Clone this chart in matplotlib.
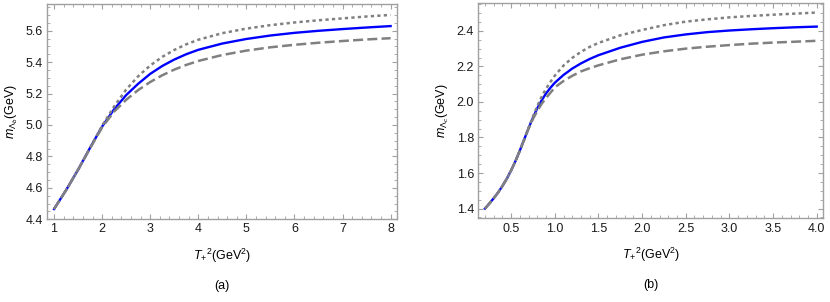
import matplotlib
matplotlib.use('Agg')
from matplotlib import pyplot as plt
from matplotlib.ticker import MultipleLocator

plt.rcParams['font.family'] = ['Liberation Sans', 'DejaVu Sans']
plt.rcParams['mathtext.fontset'] = 'custom'
plt.rcParams['mathtext.rm'] = 'Liberation Sans'
plt.rcParams['mathtext.it'] = 'Liberation Sans:italic'

# Panel (a): Lambda_b mass vs T_+^2
x_b = [1.0, 1.25, 1.5, 1.75, 2.0, 2.25, 2.5, 2.75, 3.0, 3.25, 3.5, 3.75, 4.0, 4.5, 5.0, 5.5, 6.0, 6.5, 7.0, 7.5, 8.0]
solid_b = [4.465, 4.585, 4.715, 4.855, 4.99, 5.10, 5.19, 5.262, 5.325, 5.375, 5.416, 5.45, 5.478, 5.518, 5.547, 5.569, 5.586, 5.599, 5.61, 5.62, 5.629]
dotted_b = [4.465, 4.585, 4.715, 4.855, 4.995, 5.118, 5.225, 5.31, 5.378, 5.433, 5.477, 5.513, 5.542, 5.584, 5.613, 5.635, 5.652, 5.666, 5.678, 5.69, 5.70]
dashed_b = [4.465, 4.585, 4.715, 4.852, 4.985, 5.085, 5.16, 5.222, 5.273, 5.316, 5.352, 5.382, 5.407, 5.445, 5.473, 5.494, 5.51, 5.523, 5.534, 5.544, 5.552]

# Panel (b): Lambda_c mass vs T_+^2
x_c = [0.2, 0.25, 0.3, 0.35, 0.4, 0.45, 0.5, 0.55, 0.6, 0.65, 0.7, 0.75, 0.8, 0.85, 0.9, 0.95, 1.0,
       1.1, 1.2, 1.3, 1.4, 1.5, 1.75, 2.0, 2.25, 2.5, 2.75, 3.0, 3.25, 3.5, 3.75, 4.0]
solid_c = [1.400, 1.428, 1.458, 1.490, 1.527, 1.568, 1.615, 1.668, 1.727, 1.790, 1.853, 1.912, 1.965, 2.010, 2.048, 2.080, 2.108,
           2.152, 2.188, 2.217, 2.242, 2.263, 2.305, 2.338, 2.363, 2.380, 2.393, 2.402, 2.409, 2.415, 2.420, 2.424]
dotted_c = [1.400, 1.428, 1.458, 1.490, 1.527, 1.568, 1.615, 1.668, 1.727, 1.790, 1.855, 1.918, 1.978, 2.030, 2.075, 2.113, 2.148,
            2.205, 2.248, 2.282, 2.310, 2.332, 2.375, 2.405, 2.432, 2.452, 2.465, 2.476, 2.484, 2.491, 2.497, 2.503]
dashed_c = [1.400, 1.428, 1.458, 1.490, 1.527, 1.568, 1.615, 1.668, 1.727, 1.790, 1.851, 1.905, 1.950, 1.990, 2.022, 2.052, 2.082,
            2.118, 2.147, 2.172, 2.190, 2.206, 2.240, 2.266, 2.285, 2.300, 2.311, 2.320, 2.328, 2.334, 2.339, 2.344]

frame_gray = '#a0a0a0'
line_gray = '#808080'

fig = plt.figure(figsize=(8.3, 3.02), dpi=100)
ax1 = fig.add_axes([0.057, 0.274, 0.4217, 0.713])
ax2 = fig.add_axes([0.5763, 0.277, 0.4157, 0.712])


def draw_panel(ax, x, solid, dotted, dashed, xlim, ylim, xmaj, xmin, ylabel, tag):
    ax.plot(x, solid, color='#0000ff', lw=1.7, zorder=2)
    ax.plot(x, dotted, color=line_gray, lw=1.8, linestyle=(0, (1.3, 1.3)), zorder=3)
    ax.plot(x, dashed, color=line_gray, lw=1.8, linestyle=(0, (4.0, 1.7)), zorder=3)
    ax.set_xlim(xlim)
    ax.set_ylim(ylim)
    ax.xaxis.set_major_locator(MultipleLocator(xmaj))
    ax.xaxis.set_minor_locator(MultipleLocator(xmin))
    ax.yaxis.set_major_locator(MultipleLocator(0.2))
    ax.yaxis.set_minor_locator(MultipleLocator(0.05))
    ax.yaxis.set_major_formatter(plt.FuncFormatter(lambda v, p: '%.1f' % v))
    for s in ax.spines.values():
        s.set_color(frame_gray)
        s.set_linewidth(1.0)
    ax.tick_params(which='both', direction='in', top=True, right=True,
                   color=frame_gray, labelsize=9, labelcolor='#1a1a1a', pad=3)
    ax.tick_params(which='major', length=3.5, width=0.8)
    ax.tick_params(which='minor', length=2, width=0.6)
    ax.set_ylabel(ylabel, fontsize=9, labelpad=4)
    ax.set_xlabel(r'$T_{+}{}^{2}$(GeV$^{2}$)', fontsize=9, labelpad=8)
    ax.text(0.5, -0.31, tag, transform=ax.transAxes, ha='center', va='center', fontsize=9)


draw_panel(ax1, x_b, solid_b, dotted_b, dashed_b, (0.86, 8.14), (4.4, 5.77), 1, 0.2,
           r'$m_{\Lambda_b}$(GeV)', '(a)')
draw_panel(ax2, x_c, solid_c, dotted_c, dashed_c, (0.124, 4.076), (1.345, 2.555), 0.5, 0.1,
           r'$m_{\Lambda_c}$(GeV)', '(b)')
ax2.xaxis.set_major_formatter(plt.FuncFormatter(lambda v, p: '%.1f' % v))

fig.savefig('out.png', dpi=100)
